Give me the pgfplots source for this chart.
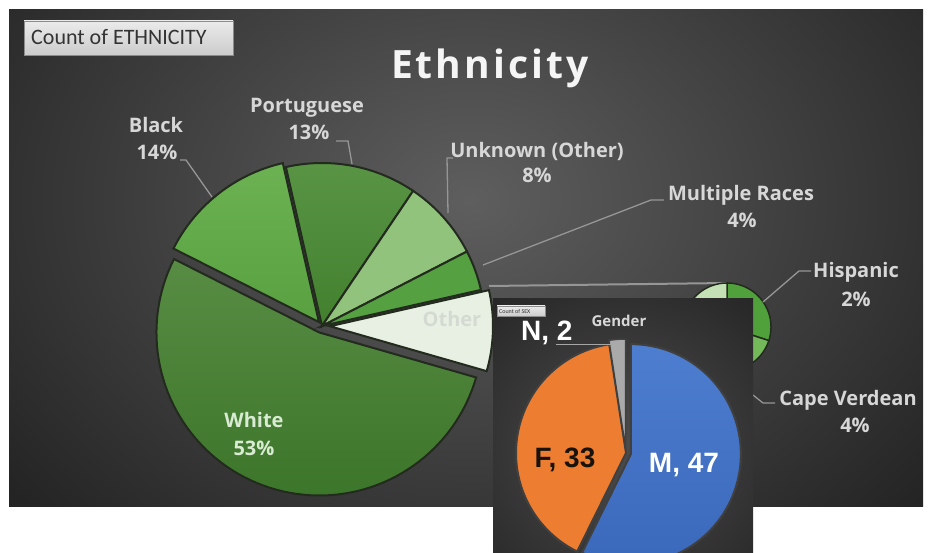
\documentclass[border=0pt]{standalone}
\usepackage{pgfplots}
\pgfplotsset{compat=1.18}
\usepackage{fontspec}
\setmainfont{Open Sans}
\newfontfamily\calfont{Carlito}
\newfontfamily\arfont{Liberation Sans}

\definecolor{cWhite}{RGB}{70,125,50}
\definecolor{cWhiteT}{RGB}{88,140,68}
\definecolor{cWhiteB}{RGB}{60,118,42}
\definecolor{cBlack}{RGB}{100,170,75}
\definecolor{cBlackT}{RGB}{108,178,82}
\definecolor{cBlackB}{RGB}{88,160,64}
\definecolor{cPort}{RGB}{78,140,58}
\definecolor{cPortT}{RGB}{88,148,68}
\definecolor{cPortB}{RGB}{66,128,46}
\definecolor{cUnk}{RGB}{145,195,125}
\definecolor{cMR}{RGB}{85,160,65}
\definecolor{cOther}{RGB}{232,240,228}
\definecolor{cHisp}{RGB}{80,160,60}
\definecolor{cCV}{RGB}{115,185,90}
\definecolor{cRest}{RGB}{195,225,180}
\definecolor{edgec}{RGB}{35,42,30}
\definecolor{lbl}{RGB}{215,215,215}
\definecolor{leadc}{RGB}{150,150,150}
\definecolor{cM}{RGB}{68,114,196}
\definecolor{cF}{RGB}{237,125,49}
\definecolor{cN}{RGB}{170,170,170}

% cx, cy, r, a1, a2, style
\newcommand{\pieslice}[6]{%
  \addplot[#6, domain=#4:#5, samples=80, variable=\t]
    ({#1 + #3*cos(\t)}, {#2 - #3*sin(\t)}) -- (axis cs:#1,#2) -- cycle;
}

\begin{document}
\begin{tikzpicture}
% ---- data (percent of ethnicity) ----
\def\vOther{8}\def\vMR{4}\def\vUnk{8}\def\vPort{13}\def\vBlack{14}\def\vWhite{53}
% secondary pie (parts of Other)
\def\vHisp{2.4}\def\vCV{4.0}\def\vRest{1.6}
% gender counts
\def\vM{47}\def\vF{33}\def\vN{2}

\pgfmathsetmacro\tot{\vOther+\vMR+\vUnk+\vPort+\vBlack+\vWhite}
\pgfmathsetmacro\kk{360/\tot}
\pgfmathsetmacro\aA{-16}
\pgfmathsetmacro\aB{\aA+\vOther*\kk}
\pgfmathsetmacro\aC{\aB+\vMR*\kk}
\pgfmathsetmacro\aD{\aC+\vUnk*\kk}
\pgfmathsetmacro\aE{\aD+\vPort*\kk}
\pgfmathsetmacro\aF{\aE+\vBlack*\kk}
\pgfmathsetmacro\aG{\aF+\vWhite*\kk}
% exploded centres
\pgfmathsetmacro\mW{(\aF+\aG)/2}
\pgfmathsetmacro\xW{322+7*cos(\mW)}\pgfmathsetmacro\yW{326-7*sin(\mW)}
\pgfmathsetmacro\mB{(\aE+\aF)/2}
\pgfmathsetmacro\xB{322+5*cos(\mB)}\pgfmathsetmacro\yB{326-5*sin(\mB)}
\pgfmathsetmacro\mO{(\aA+\aB)/2}
\pgfmathsetmacro\xO{322+8*cos(\mO)}\pgfmathsetmacro\yO{326-8*sin(\mO)}
% secondary pie angles
\pgfmathsetmacro\stot{\vHisp+\vCV+\vRest}
\pgfmathsetmacro\sk{360/\stot}
\pgfmathsetmacro\sA{90}
\pgfmathsetmacro\sB{\sA-\vHisp*\sk}
\pgfmathsetmacro\sC{\sB-\vCV*\sk}
\pgfmathsetmacro\sD{\sC-\vRest*\sk}
% gender pie angles (clockwise from top)
\pgfmathsetmacro\gtot{\vM+\vF+\vN}
\pgfmathsetmacro\gk{360/\gtot}
\pgfmathsetmacro\gA{90}
\pgfmathsetmacro\gB{\gA-\vM*\gk}
\pgfmathsetmacro\gC{\gB-\vF*\gk}
\pgfmathsetmacro\gD{\gC-\vN*\gk}
\pgfmathsetmacro\mM{(\gA+\gB)/2}
\pgfmathsetmacro\xM{626+5*cos(\mM)}\pgfmathsetmacro\yM{453-5*sin(\mM)}
\pgfmathsetmacro\mN{(\gC+\gD)/2}
\pgfmathsetmacro\xN{626+4*cos(\mN)}\pgfmathsetmacro\yN{453-4*sin(\mN)}

\begin{axis}[width=932pt,height=553pt,scale only axis,
  xmin=0,xmax=932,ymin=0,ymax=553,y dir=reverse,axis lines=none,
  clip=true]
% page background
\fill[white] (axis cs:0,0) rectangle (axis cs:932,553);
% main panel
\begin{scope}
\clip (axis cs:9,10) rectangle (axis cs:923,506);
\shade[inner color=black!63, outer color=black!86]
  (axis cs:-130,-260) rectangle (axis cs:1070,660);
\end{scope}
% count box
\shade[top color=black!8, bottom color=black!20, draw=black!45]
  (axis cs:24,21) rectangle (axis cs:233,55);
\node[anchor=base west, text=black!80, inner sep=0pt] at (axis cs:31,45)
  {\calfont\fontsize{22}{24}\selectfont Count of ETHNICITY};
% title
\node[anchor=base, text=black!4, inner sep=0pt] at (axis cs:490,79)
  {\fontsize{39}{40}\selectfont\bfseries\addfontfeatures{LetterSpace=8}Ethnicity};

% main pie
\pieslice{\xW}{\yW}{163}{\aF}{\aG}{top color=cWhiteT, bottom color=cWhiteB, draw=edgec, line width=2pt}
\pieslice{\xB}{\yB}{163}{\aE}{\aF}{top color=cBlackT, bottom color=cBlackB, draw=edgec, line width=2pt}
\pieslice{322}{326}{163}{\aD}{\aE}{top color=cPortT, bottom color=cPortB, draw=edgec, line width=2pt}
\pieslice{322}{326}{163}{\aC}{\aD}{fill=cUnk, draw=edgec, line width=2pt}
\pieslice{322}{326}{163}{\aB}{\aC}{fill=cMR, draw=edgec, line width=2pt}
\pieslice{\xO}{\yO}{163}{\aA}{\aB}{fill=cOther, draw=edgec, line width=2pt}

% connector to secondary pie
\draw[leadc, line width=2pt] (axis cs:489,286) -- (axis cs:727,283);
% secondary pie
\pieslice{727}{327}{44}{\sB}{\sA}{fill=cHisp, draw=edgec, line width=1.5pt}
\pieslice{727}{327}{44}{\sC}{\sB}{fill=cCV, draw=edgec, line width=1.5pt}
\pieslice{727}{327}{44}{\sD}{\sC}{fill=cRest, draw=edgec, line width=1.5pt}

% leader lines
\draw[leadc, line width=1.3pt] (axis cs:180,160) -- (axis cs:186,160) -- (axis cs:212,197);
\draw[leadc, line width=1.3pt] (axis cs:336,141) -- (axis cs:348,141) -- (axis cs:352,164);
\draw[leadc, line width=1.3pt] (axis cs:453,158) -- (axis cs:447,158) -- (axis cs:448,213);
\draw[leadc, line width=1.3pt] (axis cs:664,200) -- (axis cs:651,200) -- (axis cs:483,265);
\draw[leadc, line width=1.3pt] (axis cs:811,271) -- (axis cs:799,271) -- (axis cs:763,302);
\draw[leadc, line width=1.3pt] (axis cs:775,403) -- (axis cs:763,403) -- (axis cs:753,395);

% labels
\tikzset{lab/.style={anchor=base, text=lbl, inner sep=0pt, font=\fontsize{20}{22}\selectfont\bfseries}}
\node[lab] at (axis cs:156,133) {Black};
\node[lab] at (axis cs:157,160) {14\%};
\node[lab] at (axis cs:307,113) {Portuguese};
\node[lab] at (axis cs:309,140) {13\%};
\node[lab] at (axis cs:537,158) {Unknown (Other)};
\node[lab] at (axis cs:537,183) {8\%};
\node[lab] at (axis cs:741,201) {Multiple Races};
\node[lab] at (axis cs:742,228) {4\%};
\node[lab] at (axis cs:856,278) {Hispanic};
\node[lab] at (axis cs:856,307) {2\%};
\node[lab] at (axis cs:848,405) {Cape Verdean};
\node[lab] at (axis cs:855,432) {4\%};
\node[lab, text={rgb,255:red,218;green,235;blue,212}] at (axis cs:254,427) {White};
\node[lab, text={rgb,255:red,218;green,235;blue,212}] at (axis cs:254,455) {53\%};
\node[lab, text={rgb,255:red,212;green,218;blue,210}] at (axis cs:452,327) {Other};

% ---- inset gender chart ----
\begin{scope}
\clip (axis cs:493,299) rectangle (axis cs:753,560);
\shade[inner color=black!70, outer color=black!85]
  (axis cs:420,250) rectangle (axis cs:826,640);
\end{scope}
\shade[top color=black!8, bottom color=black!20, draw=black!45]
  (axis cs:497,306) rectangle (axis cs:545,316);
\node[anchor=base west, text=black!80, inner sep=0pt] at (axis cs:499,313.5)
  {\calfont\fontsize{6}{7}\selectfont Count of SEX};
\node[anchor=base, text=lbl, inner sep=0pt] at (axis cs:619,327)
  {\fontsize{15}{17}\selectfont\bfseries Gender};

\pieslice{\xM}{\yM}{110}{\gB}{\gA}{top color={rgb,255:red,78;green,126;blue,208}, bottom color={rgb,255:red,58;green,104;blue,186}, draw=black!75, line width=2pt}
\pieslice{626}{453}{110}{\gC}{\gB}{fill=cF, draw=black!75, line width=2pt}
\pieslice{\xN}{\yN}{110}{\gD}{\gC}{fill=cN, draw=black!75, line width=1.5pt}

\draw[black!35, line width=1pt] (axis cs:556,345) -- (axis cs:612,345);
\node[anchor=base west, text=white, inner sep=0pt] at (axis cs:521,341)
  {\arfont\fontsize{28}{30}\selectfont\bfseries N, 2};
\node[anchor=base, text={rgb,255:red,25;green,18;blue,10}, inner sep=0pt] at (axis cs:565,467)
  {\arfont\fontsize{28}{30}\selectfont\bfseries F, 33};
\node[anchor=base, text=white, inner sep=0pt] at (axis cs:684,472)
  {\arfont\fontsize{28}{30}\selectfont\bfseries M, 47};
\end{axis}
\end{tikzpicture}
\end{document}
